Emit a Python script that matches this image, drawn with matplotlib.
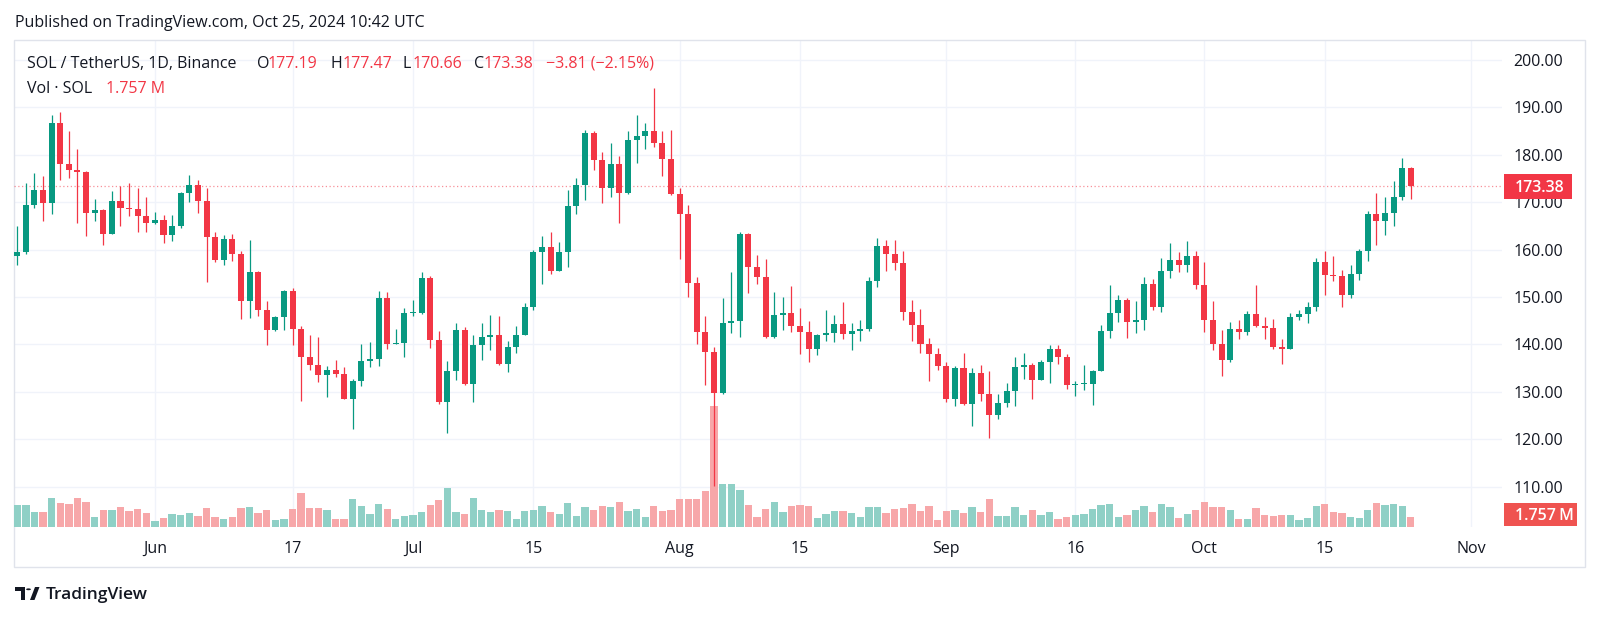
import numpy as np
import pandas as pd
import matplotlib
matplotlib.use("Agg")
import matplotlib.pyplot as plt
from matplotlib.patches import Rectangle, Circle, Polygon
from matplotlib.transforms import blended_transform_factory

plt.rcParams['font.family'] = ['Open Sans', 'DejaVu Sans']

# ---------------- data ----------------
start_date = '2024-05-16'
open_ = [158.6, 159.4, 169.4, 172.5, 169.9, 186.8, 178.1, 176.9, 176.3, 167.8,
         168.4, 163.4, 170.3, 168.7, 168.5, 167.0, 165.6, 166.3, 163.1, 165.0,
         171.9, 173.6, 170.3, 162.6, 157.9, 162.2, 159.1, 149.2, 155.3, 147.2,
         143.0, 145.7, 151.3, 143.3, 137.4, 135.6, 133.5, 134.6, 133.8, 128.6,
         132.4, 136.6, 136.9, 149.7, 140.1, 140.4, 146.6, 146.7, 154.1, 140.9,
         127.8, 134.4, 143.1, 131.7, 139.8, 141.5, 142.1, 135.8, 139.5, 142.1,
         147.8, 159.4, 160.5, 155.5, 159.4, 169.2, 173.6, 184.5, 178.9, 173.1,
         178.1, 171.9, 183.1, 184.0, 185.0, 182.6, 179.1, 171.7, 167.5, 152.9,
         142.6, 138.4, 129.8, 144.5, 144.9, 163.3, 156.3, 154.2, 141.6, 146.3,
         146.6, 143.8, 142.6, 139.1, 142.1, 142.4, 144.3, 142.2, 142.9, 143.3,
         153.4, 160.8, 159.1, 157.2, 146.8, 144.1, 140.0, 137.9, 135.4, 128.5,
         135.0, 127.5, 133.9, 129.6, 125.1, 127.7, 130.1, 135.3, 135.7, 132.6,
         136.2, 139.1, 137.3, 131.4, 131.6, 131.7, 134.4, 142.9, 146.6, 149.4,
         144.7, 145.1, 152.8, 148.0, 155.5, 157.8, 156.7, 158.6, 152.5, 145.2,
         140.2, 136.8, 143.3, 142.6, 146.5, 144.0, 143.5, 139.4, 139.1, 145.7,
         146.5, 147.9, 157.5, 154.7, 154.4, 150.5, 154.9, 159.8, 167.5, 166.1,
         167.7, 171.0, 177.19]
high = [164.9, 174.0, 176.1, 175.5, 188.4, 189.0, 185.0, 181.2, 176.5, 170.6,
        168.6, 172.4, 173.4, 174.0, 173.1, 171.1, 168.0, 167.3, 167.3, 172.1,
        175.8, 174.6, 172.9, 163.8, 163.1, 163.3, 159.8, 162.1, 155.5, 149.2,
        145.9, 151.5, 152.0, 143.8, 142.1, 141.5, 135.5, 136.8, 135.3, 132.8,
        140.1, 140.5, 151.3, 151.0, 143.3, 147.7, 149.4, 155.3, 154.5, 142.8,
        136.6, 144.5, 143.6, 142.1, 144.5, 146.3, 146.1, 140.7, 143.8, 148.7,
        160.0, 162.8, 163.8, 161.6, 172.5, 175.1, 185.2, 185.0, 180.7, 182.6,
        179.8, 185.0, 188.4, 186.8, 194.0, 185.0, 185.2, 172.9, 169.4, 154.2,
        146.1, 139.5, 149.8, 155.3, 163.8, 163.6, 158.9, 158.1, 151.0, 150.0,
        152.4, 147.7, 144.9, 142.3, 147.3, 146.3, 149.0, 144.5, 145.1, 154.2,
        162.4, 162.1, 162.1, 159.8, 149.3, 147.5, 141.4, 139.3, 136.2, 135.4,
        138.2, 135.1, 135.7, 134.5, 129.6, 131.9, 137.4, 138.1, 136.0, 136.8,
        139.8, 139.8, 138.0, 132.4, 135.7, 134.7, 144.2, 152.6, 150.4, 149.8,
        149.1, 154.2, 153.9, 158.2, 161.4, 159.5, 161.9, 159.8, 157.4, 149.2,
        143.1, 144.7, 145.2, 147.0, 152.6, 145.7, 145.4, 141.2, 146.6, 147.3,
        148.9, 158.2, 159.8, 158.7, 155.8, 156.8, 160.1, 168.2, 171.9, 171.0,
        174.4, 179.3, 177.47]
low = [156.7, 159.0, 168.7, 166.1, 167.5, 174.6, 175.2, 165.6, 162.8, 166.1,
       161.0, 163.2, 165.0, 167.1, 163.7, 163.8, 165.4, 161.4, 161.9, 164.5,
       170.1, 167.7, 153.1, 157.5, 156.7, 157.7, 145.4, 145.6, 146.1, 139.9,
       142.9, 143.1, 139.9, 128.0, 134.7, 132.0, 128.9, 133.2, 128.4, 122.2,
       131.3, 135.2, 135.4, 139.1, 140.0, 137.4, 145.9, 146.4, 139.3, 127.5,
       121.4, 132.6, 131.4, 127.8, 136.8, 138.8, 135.6, 134.1, 138.2, 141.9,
       147.2, 152.8, 154.9, 155.4, 156.3, 167.5, 170.4, 176.8, 169.9, 171.0,
       165.6, 171.7, 178.2, 181.2, 181.7, 175.5, 171.5, 158.1, 150.1, 140.2,
       131.5, 110.1, 129.6, 142.4, 141.6, 150.8, 152.7, 141.4, 141.4, 143.1,
       142.6, 137.9, 136.3, 137.7, 140.8, 140.5, 141.2, 138.9, 140.8, 142.8,
       152.2, 155.4, 155.8, 145.2, 140.7, 138.1, 132.2, 134.7, 127.9, 127.0,
       127.2, 122.8, 128.0, 120.2, 124.2, 126.8, 127.0, 132.7, 128.4, 132.5,
       131.9, 135.8, 130.7, 129.1, 130.3, 127.3, 134.3, 141.4, 144.7, 141.4,
       142.4, 143.1, 147.3, 146.8, 154.0, 155.2, 155.2, 151.8, 142.6, 138.8,
       133.3, 136.2, 141.2, 142.1, 143.7, 141.2, 139.1, 135.8, 139.0, 145.1,
       144.5, 147.1, 150.4, 153.3, 147.8, 149.8, 153.6, 157.6, 161.0, 163.1,
       164.9, 170.5, 170.66]
close = [159.4, 169.4, 172.5, 169.9, 186.8, 178.1, 176.9, 176.3, 167.8, 168.4,
         163.4, 170.3, 168.7, 168.5, 167.0, 165.6, 166.3, 163.1, 165.0, 171.9,
         173.6, 170.3, 162.6, 157.9, 162.2, 159.1, 149.2, 155.3, 147.2, 143.0,
         145.7, 151.3, 143.3, 137.4, 135.6, 133.5, 134.6, 133.8, 128.6, 132.4,
         136.6, 136.9, 149.7, 140.1, 140.4, 146.6, 146.7, 154.1, 140.9, 127.8,
         134.4, 143.1, 131.7, 139.8, 141.5, 142.1, 135.8, 139.5, 142.1, 147.8,
         159.4, 160.5, 155.5, 159.4, 169.2, 173.6, 184.5, 178.9, 173.1, 178.1,
         171.9, 183.1, 184.0, 185.0, 182.6, 179.1, 171.7, 167.5, 152.9, 142.6,
         138.4, 129.8, 144.5, 144.9, 163.3, 156.3, 154.2, 141.6, 146.3, 146.6,
         143.8, 142.6, 139.1, 142.1, 142.4, 144.3, 142.2, 142.9, 143.3, 153.4,
         160.8, 159.1, 157.2, 146.8, 144.1, 140.0, 137.9, 135.4, 128.5, 135.0,
         127.5, 133.9, 129.6, 125.1, 127.7, 130.1, 135.3, 135.7, 132.6, 136.2,
         139.1, 137.3, 131.4, 131.6, 131.7, 134.4, 142.9, 146.6, 149.4, 144.7,
         145.1, 152.8, 148.0, 155.5, 157.8, 156.7, 158.6, 152.5, 145.2, 140.2,
         136.8, 143.3, 142.6, 146.5, 144.0, 143.5, 139.4, 139.1, 145.7, 146.5,
         147.9, 157.5, 154.7, 154.4, 150.5, 154.9, 159.8, 167.5, 166.1, 167.7,
         171.0, 177.19, 173.38]
volume_m = [3.81, 3.81, 2.64, 2.64, 5.15, 4.27, 3.99, 5.15, 4.45, 1.81,
            2.93, 2.93, 3.51, 2.76, 3.11, 2.41, 1.11, 1.63, 2.23, 2.06,
            2.41, 1.93, 3.29, 1.76, 1.41, 1.76, 3.29, 3.46, 2.41, 2.93,
            1.23, 1.41, 3.11, 5.97, 3.29, 3.29, 2.93, 1.41, 1.41, 4.97,
            3.64, 2.23, 4.09, 3.11, 1.41, 1.88, 2.06, 2.58, 3.81, 4.74,
            6.80, 2.58, 2.34, 5.15, 3.04, 2.58, 3.04, 2.76, 1.35, 2.76,
            3.04, 3.64, 2.58, 2.34, 4.27, 1.88, 3.46, 3.04, 3.64, 3.46,
            4.45, 2.76, 3.22, 1.76, 3.64, 2.76, 2.93, 4.97, 4.97, 4.97,
            6.27, 21.26, 7.50, 7.50, 6.45, 3.81, 1.76, 3.22, 4.45, 2.58,
            3.64, 3.81, 3.64, 1.58, 2.23, 2.76, 2.76, 2.41, 1.76, 3.46,
            3.46, 2.41, 3.11, 3.29, 3.99, 2.76, 3.64, 1.23, 2.76, 2.93,
            2.41, 3.46, 2.58, 4.97, 1.93, 1.93, 3.46, 2.06, 2.93, 2.06,
            2.58, 1.41, 1.76, 2.06, 2.23, 3.11, 3.81, 4.09, 1.76, 2.06,
            2.93, 3.64, 2.58, 3.99, 3.46, 1.58, 2.23, 2.93, 4.45, 3.46,
            3.46, 2.93, 1.41, 1.41, 3.29, 2.06, 1.93, 2.06, 2.06, 1.23,
            1.58, 3.64, 4.09, 2.58, 2.41, 1.76, 1.58, 2.93, 4.27, 3.81,
            4.09, 3.64, 1.757]
tick_dates = ['2024-06-01', '2024-06-17', '2024-07-01', '2024-07-15', '2024-08-01',
              '2024-08-15', '2024-09-01', '2024-09-16', '2024-10-01', '2024-10-15',
              '2024-11-01']
tick_labels = ['Jun', '17', 'Jul', '15', 'Aug', '15', 'Sep', '16', 'Oct', '15', 'Nov']
price_ticks = [110, 120, 130, 140, 150, 160, 170, 180, 190, 200]
last_price = 173.38
last_volume = 1.757

# ---------------- style ----------------
GREEN = '#089981'
RED = '#F23645'
VOL_GREEN = '#8FD0C6'
VOL_RED = '#F7A7A9'
TXT = '#131722'
GRID = '#F0F3FA'
FS = 11.5

W, H = 1600, 618
fig = plt.figure(figsize=(16, 6.18), dpi=100)
fig.patch.set_facecolor('white')


def fx(px):
    return px / W


def fy(py):
    return 1 - py / H


L, R, T, B = 14, 1502, 40, 527
pos = [fx(L), fy(B), fx(R) - fx(L), fy(T) - fy(B)]

dates = pd.date_range(start_date, periods=len(close), freq='D')
x = np.asarray((dates - dates[0]).days, dtype=float)
tick_x = np.asarray((pd.to_datetime(tick_dates) - dates[0]).days, dtype=float)

xlim = (-0.38, 172.6)
ylim = (101.5, 204.22)

# base axes: grid + axis labels
ax = fig.add_axes(pos, zorder=0)
ax.set_xlim(*xlim)
ax.set_ylim(*ylim)
for s in ax.spines.values():
    s.set_visible(False)
ax.set_yticks(price_ticks)
ax.set_yticklabels([f'{p:.2f}' for p in price_ticks])
ax.yaxis.tick_right()
ax.tick_params(axis='y', length=0, pad=8, labelsize=FS, labelcolor=TXT)
ax.set_xticks(tick_x)
ax.set_xticklabels(tick_labels)
ax.tick_params(axis='x', length=0, pad=10, labelsize=FS, labelcolor=TXT)
ax.grid(True, color=GRID, linewidth=1)
ax.set_axisbelow(True)

# volume axes
axv = fig.add_axes(pos, zorder=1)
axv.patch.set_visible(False)
axv.set_xlim(*xlim)
axv.set_ylim(0, (B - T) * last_volume / 10.0)
axv.axis('off')
o = np.asarray(open_)
c = np.asarray(close)
h = np.asarray(high)
l = np.asarray(low)
up = c >= o
axv.bar(x, volume_m, width=0.85, color=np.where(up, VOL_GREEN, VOL_RED), linewidth=0)

# candles axes
axc = fig.add_axes(pos, zorder=2)
axc.patch.set_visible(False)
axc.set_xlim(*xlim)
axc.set_ylim(*ylim)
axc.axis('off')
cols = np.where(up, GREEN, RED)
axc.vlines(x, l, h, colors=cols, linewidth=0.9, zorder=2)
body_bottom = np.minimum(o, c)
body_h = np.maximum(np.abs(c - o), 0.22)
axc.bar(x, body_h, bottom=body_bottom, width=0.7, color=cols, linewidth=0, zorder=3)
axc.axhline(last_price, color=RED, alpha=0.55, linewidth=0.9, linestyle=(0, (1, 2)), zorder=1)

# last price label on price scale
bt = blended_transform_factory(fig.transFigure, ax.transData)
box_h = 25 / ((B - T) / (ylim[1] - ylim[0]))
fig.patches.append(Rectangle((fx(1504), last_price - box_h / 2), fx(1572) - fx(1504), box_h,
                             transform=bt, facecolor=RED, edgecolor='none', zorder=5))
fig.text(fx(1515), last_price, f'{last_price:.2f}', transform=bt, color='white',
         fontsize=FS, fontweight='semibold', va='center_baseline', ha='left', zorder=6)

# last volume label
fig.patches.append(Rectangle((fx(1504), fy(526)), fx(1577) - fx(1504), fy(502.7) - fy(526),
                             transform=fig.transFigure, facecolor='#EF5350', edgecolor='none', zorder=5))
fig.text(fx(1515), fy(514.3), f'{last_volume:.3f}\u2009M', color='white', fontsize=FS,
         fontweight='semibold', va='center_baseline', ha='left', zorder=6,
         family=['Open Sans', 'DejaVu Sans'])

# frame
fig.patches.append(Rectangle((fx(14), fy(567)), fx(1585) - fx(14), fy(39.5) - fy(567),
                             transform=fig.transFigure, fill=False, edgecolor='#E0E3EB',
                             linewidth=1, zorder=0))

# header texts
fig.text(fx(15), fy(27.3), 'Published on TradingView.com, Oct 25, 2024 10:42 UTC',
         color=TXT, fontsize=FS, va='baseline', ha='left')
legend_y = fy(67.5)
fig.text(fx(26.7), legend_y, 'SOL / TetherUS, 1D, Binance', color=TXT, fontsize=FS, va='baseline')
items = [('O', 256.7, TXT), (f'{open_[-1]:.2f}', 268, RED),
         ('H', 330.7, TXT), (f'{high[-1]:.2f}', 343, RED),
         ('L', 403, TXT), (f'{low[-1]:.2f}', 413, RED),
         ('C', 474, TXT), (f'{close[-1]:.2f}', 484, RED)]
for s, px, col in items:
    fig.text(fx(px), legend_y, s, color=col, fontsize=FS, va='baseline')
chg = close[-1] - close[-2]
pct = chg / close[-2] * 100
fig.text(fx(546), legend_y, f'\u2212{abs(chg):.2f} (\u2212{abs(pct):.2f}%)', color=RED,
         fontsize=FS, va='baseline')
fig.text(fx(26.7), fy(92.7), 'Vol \u00b7 SOL', color=TXT, fontsize=FS, va='baseline')
fig.text(fx(106), fy(92.7), f'{last_volume:.3f} M', color=RED, fontsize=FS, va='baseline')

# TradingView logo
fig.patches.append(Rectangle((fx(15), fy(591)), fx(25) - fx(15), fy(587) - fy(591),
                             transform=fig.transFigure, facecolor=TXT, edgecolor='none'))
fig.patches.append(Rectangle((fx(21), fy(600)), fx(25) - fx(21), fy(587) - fy(600),
                             transform=fig.transFigure, facecolor=TXT, edgecolor='none'))
fig.patches.append(Circle((fx(28.5), fy(589.3)), fx(2.4), transform=fig.transFigure,
                          facecolor=TXT, edgecolor='none'))
fig.patches.append(Polygon([(fx(30), fy(600)), (fx(34.5), fy(600)), (fx(39.5), fy(587)),
                            (fx(35), fy(587))], closed=True, transform=fig.transFigure,
                           facecolor=TXT, edgecolor='none'))
fig.text(fx(46), fy(599), 'TradingView', color=TXT, fontsize=12.5, fontweight='semibold',
         va='baseline', ha='left')

fig.savefig('out.png', dpi=100, facecolor='white')
